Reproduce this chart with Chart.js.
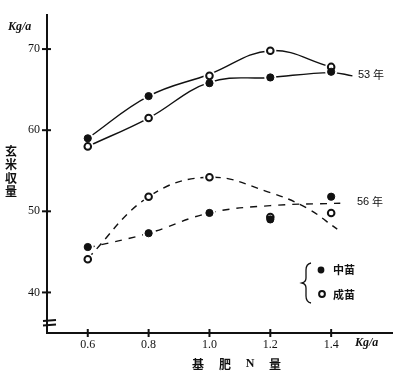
<!DOCTYPE html>
<html><head><meta charset="utf-8">
<script src="https://cdn.jsdelivr.net/npm/chart.js@4.4.1/dist/chart.umd.min.js"></script>
<style>html,body{margin:0;padding:0;background:#fff}canvas{display:block}</style>
</head><body>
<canvas id="c" width="398" height="374"></canvas>
<script>
// N application (Kg/a)
const nLevels = [0.6, 0.8, 1.0, 1.2, 1.4];
const yTicks = [40, 50, 60, 70];
// markers: 中苗 (filled) and 成苗 (open)
const chu53 = [59.0, 64.2, 65.8, 66.5, 67.2];
const sei53 = [58.0, 61.5, 66.7, 69.8, 67.8];
const chu56 = [45.6, 47.3, 49.8, 49.0, 51.8];
const sei56 = [44.1, 51.8, 54.2, 49.3, 49.8];
// hand-drawn fitted curves
const curve53aX = [0.6, 0.8, 1.0, 1.2, 1.4];
const curve53aY = [59.0, 64.2, 66.9, 69.8, 67.8];
const curve53bX = [0.6, 0.8, 1.0, 1.2, 1.4, 1.47];
const curve53bY = [58.0, 61.5, 65.9, 66.5, 67.1, 66.7];
const curve56aX = [0.6, 0.8, 1.0, 1.2, 1.32, 1.42];
const curve56aY = [44.2, 51.8, 54.2, 52.3, 50.4, 47.8];
const curve56bX = [0.6, 0.8, 1.0, 1.2, 1.43];
const curve56bY = [45.5, 47.3, 49.8, 50.7, 51.0];

const pts = (xs, ys) => xs.map((x, i) => ({x, y: ys[i]}));
const curve = (xs, ys, dash) => ({type:'line', data: pts(xs, ys), borderColor:'#111', borderWidth:1.4,
  borderDash: dash, pointRadius:0, tension:0.4, fill:false, order:3});
const halo = (ys) => ({type:'scatter', data: pts(nLevels, ys), pointRadius:6, pointBackgroundColor:'#fff',
  pointBorderWidth:0, borderColor:'#fff', order:2});
const filled = (ys) => ({type:'scatter', data: pts(nLevels, ys), pointRadius:3.6, pointBackgroundColor:'#111',
  pointBorderColor:'#111', pointBorderWidth:1, order:1});
const open = (ys) => ({type:'scatter', data: pts(nLevels, ys), pointRadius:3.3, pointBackgroundColor:'#fff',
  pointBorderColor:'#111', pointBorderWidth:2, order:1});

const CJK = '"Noto Sans CJK JP"';
const deco = {
  id:'deco',
  afterDraw(chart){
    const c = chart.ctx, xs = chart.scales.x, ys = chart.scales.y;
    c.save();
    c.setTransform(1, 0, 0, 1, 0, 0);
    c.strokeStyle = '#111'; c.lineWidth = 2;
    // tick marks crossing the axes
    yTicks.forEach(v => { const y = ys.getPixelForValue(v); c.beginPath(); c.moveTo(42, y); c.lineTo(51, y); c.stroke(); });
    nLevels.forEach(v => { const x = xs.getPixelForValue(v); c.beginPath(); c.moveTo(x, 329); c.lineTo(x, 337); c.stroke(); });
    // axis break mark
    c.beginPath(); c.moveTo(43, 321); c.lineTo(56, 320); c.moveTo(43, 325.5); c.lineTo(56, 324.5); c.stroke();
    c.fillStyle = '#111';
    // unit labels
    c.font = 'italic bold 12px "Liberation Serif"'; c.textBaseline = 'middle'; c.textAlign = 'left';
    c.fillText('Kg/a', 8, 27);
    c.fillText('Kg/a', 355, 343);
    // y title (vertical, one character per line)
    c.font = 'bold 12px ' + CJK; c.textAlign = 'center';
    const yTitle = ['玄', '米', '収', '量'];
    for (let i = 0; i < yTitle.length; i++) c.fillText(yTitle[i], 11, 151 + i * 13.5);
    // x title
    c.fillText('基', 198, 364); c.fillText('肥', 225, 364);
    c.font = 'bold 12px "Liberation Serif"'; c.fillText('N', 250, 364);
    c.font = 'bold 12px ' + CJK; c.fillText('量', 275, 364);
    // year labels
    c.textAlign = 'left';
    c.font = '11px "Liberation Sans"'; c.fillText('53', 358, 75); c.fillText('56', 357, 202);
    c.font = '11px ' + CJK; c.fillText('年', 373, 75); c.fillText('年', 372, 202);
    // legend
    c.lineWidth = 1.3;
    c.beginPath();
    c.moveTo(311, 263); c.quadraticCurveTo(306, 264, 306, 270); c.lineTo(306, 278);
    c.quadraticCurveTo(306, 282, 302, 283); c.quadraticCurveTo(306, 284, 306, 288);
    c.lineTo(306, 296); c.quadraticCurveTo(306, 302, 311, 303); c.stroke();
    c.beginPath(); c.arc(321, 270, 3.4, 0, Math.PI * 2); c.fill();
    c.lineWidth = 2; c.beginPath(); c.arc(322, 294, 2.9, 0, Math.PI * 2); c.stroke();
    c.font = 'bold 11px ' + CJK; c.fillText('中苗', 333, 270); c.fillText('成苗', 333, 295);
    c.restore();
  }
};

new Chart(document.getElementById('c'), {
  data: { datasets: [
    curve(curve53aX, curve53aY, []), curve(curve53bX, curve53bY, []),
    curve(curve56aX, curve56aY, [7, 6]), curve(curve56bX, curve56bY, [7, 7]),
    halo(chu53), halo(sei53), halo(chu56), halo(sei56),
    filled(chu53), open(sei53), filled(chu56), open(sei56)
  ]},
  options: {
    responsive:false, animation:false, devicePixelRatio:1,
    layout:{ padding:{ top:15, right:6, left:0, bottom:0 } },
    plugins:{ legend:{display:false}, tooltip:{enabled:false} },
    scales:{
      x:{ type:'linear', min:0.466, max:1.6,
        afterBuildTicks(s){ s.ticks = nLevels.map(v => ({value:v})); },
        afterFit(s){ s.height = 41; },
        grid:{ display:false, drawTicks:false },
        border:{ display:true, color:'#111', width:2 },
        ticks:{ padding:5, color:'#111', font:{ family:'"Liberation Serif"', size:12 },
          callback:v => v.toFixed(1) } },
      y:{ type:'linear', min:35, max:74.2,
        afterBuildTicks(s){ s.ticks = yTicks.map(v => ({value:v})); },
        afterFit(s){ s.width = 47; },
        grid:{ display:false, drawTicks:false },
        border:{ display:true, color:'#111', width:2 },
        ticks:{ padding:7, color:'#111', font:{ family:'"Liberation Serif"', size:12 } } }
    }
  },
  plugins:[deco]
});
</script>
</body></html>
